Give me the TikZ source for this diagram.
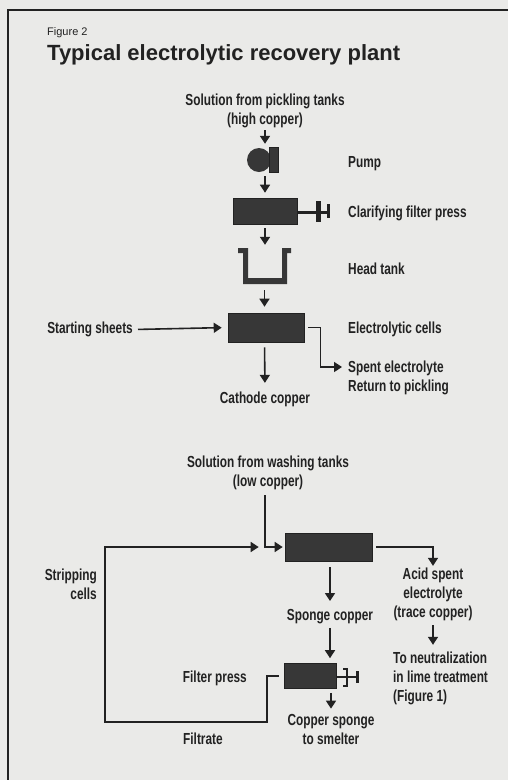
\documentclass[tikz,border=0pt]{standalone}
\usepackage{fontspec}
\setmainfont{Liberation Sans}
\newfontfamily\labelfont{Liberation Sans}[FakeStretch=0.74]
\usepackage{xcolor}
\usepackage{tikz}
\usetikzlibrary{positioning,arrows.meta,calc}
\definecolor{paper}{RGB}{234,234,232}
\definecolor{ink}{RGB}{34,34,34}
\definecolor{unitfill}{RGB}{55,55,55}
\tikzset{
unit/.style={
fill=unitfill,
draw=ink,
line width=0.6pt,
inner sep=0pt
},
lbl/.style={
text=ink,
align=center,
inner sep=1pt,
font=\labelfont\bfseries\fontsize{16}{19}\selectfont
},
arrow/.style={
-{Triangle[width=10pt,length=8pt]},
line width=1.6pt,
draw=ink
}
}

\begin{document}
\begin{tikzpicture}[x=1pt,y=-1pt]
\fill[paper] (0,0) rectangle (508,780);
\useasboundingbox (0,0) rectangle (508,780);
\draw[ink,line width=2pt] (508,10) -- (8,10) -- (8,780);

\node[anchor=base west,inner sep=0,text=ink,font=\fontsize{11}{13}\selectfont] (fig) at (47,35) {Figure 2};
\node[anchor=base west,inner sep=0,text=ink,font=\bfseries\fontsize{22}{26}\selectfont] (title) at (47,60) {Typical electrolytic recovery plant};

% upper plant: pickling solution
\node[lbl] (src1) at (265,111) {Solution from pickling tanks\\(high copper)};
\node[circle,fill=unitfill,minimum size=24pt,inner sep=0] (pump) at (259,160) {};
\node[unit,minimum width=9pt,minimum height=25pt] (pumpbar) at (273.5,159.5) {};
\node[unit,minimum width=64pt,minimum height=26pt] (press) at (265,211) {};
\node[minimum width=53pt,minimum height=36pt,inner sep=0] (tank) at (264.5,266) {};
\node[unit,minimum width=76pt,minimum height=29pt] (cells) at (266,327.5) {};

% press handle
\begin{scope}[shift={(press.east)}]
\draw[ink,line width=3pt] (0,1) -- (31,1);
\fill[ink] (19,-10) rectangle (24,11);
\fill[ink] (30,-7) rectangle (33,7);
\end{scope}

% head tank
\begin{scope}[shift={(tank)}]
\fill[unitfill] (-26.5,-18) -- (-16.5,-18) -- (-16.5,12) -- (17.5,12) -- (17.5,-18)
  -- (26.5,-18) -- (26.5,-13) -- (22.5,-13) -- (22.5,18) -- (-21.5,18)
  -- (-21.5,-13) -- (-26.5,-13) -- cycle;
\end{scope}

\node[lbl,anchor=west] (pumplbl) at (347,163.5) {Pump};
\node[lbl,anchor=west] (presslbl) at (347,213.5) {Clarifying filter press};
\node[lbl,anchor=west] (tanklbl) at (347,268.5) {Head tank};
\node[lbl,anchor=west] (cellslbl) at (347,329.5) {Electrolytic cells};
\node[lbl,anchor=east] (sheets) at (134,329.5) {Starting sheets};
\node[lbl,anchor=west,align=left] (spent) at (347,378) {Spent electrolyte\\Return to pickling};
\node[lbl] (cathode) at (265,399.5) {Cathode copper};
\coordinate (spentin) at (342,367);

\draw[arrow,shorten <=1pt,shorten >=4pt] (src1.south) -- (src1.south |- pump.north);
\draw[arrow,shorten <=4pt,shorten >=5pt] (press.north |- pump.south) -- (press.north);
\draw[arrow,shorten <=4pt,shorten >=3pt] (press.south) -- (press.south |- tank.north);
\draw[arrow,shorten <=6pt,shorten >=6pt] (tank.south) -- (tank.south |- cells.north);
\draw[arrow,shorten <=5pt,shorten >=8pt] (tank.south |- cells.south) -- (cathode.north);
\draw[arrow,shorten <=4pt,shorten >=6pt] (sheets.east) -- (cells.west);
\draw[arrow] ([xshift=4pt]cells.east) -- ++(12,0) |- (spentin);

% lower plant: washing solution
\node[lbl] (src2) at (268,473) {Solution from washing tanks\\(low copper)};
\node[unit,minimum width=87pt,minimum height=28pt] (cell2) at (328.5,547) {};
\node[lbl,anchor=east,align=right] (strip) at (98,584) {Stripping\\cells};
\node[lbl] (acid) at (433,594.5) {Acid spent\\electrolyte\\(trace copper)};
\node[lbl,anchor=west,align=left] (neut) at (392,678.5) {To neutralization\\in lime treatment\\(Figure 1)};
\node[lbl] (sponge) at (330,616.5) {Sponge copper};
\node[unit,minimum width=52pt,minimum height=25pt] (press2) at (310,676) {};
\node[lbl,anchor=east] (fplbl) at (248,678.5) {Filter press};
\node[lbl] (smelter) at (331,729) {Copper sponge\\to smelter};
\node[lbl,anchor=west] (filtrate) at (182,738.5) {Filtrate};
\coordinate (ret) at (105,722);

% second press handle
\begin{scope}[shift={(press2.east)}]
\draw[ink,line width=2pt] (0,1) -- (22,1);
\draw[ink,line width=1.8pt] (7,-7) -- (11,-7) -- (11,10) -- (7,10);
\draw[ink,line width=2.5pt] (21,-5) -- (21,7);
\end{scope}

\draw[arrow,shorten <=4pt,shorten >=2pt] ([xshift=-3pt]src2.south) |- (cell2.west);
\draw[arrow,shorten >=1pt] ([xshift=4pt]cell2.east) -| (acid.north);
\draw[arrow,shorten <=3pt,shorten >=6pt] (acid.south) -- (acid.south |- neut.north);
\draw[arrow,shorten <=6pt,shorten >=7pt] (sponge.north |- cell2.south) -- (sponge.north);
\draw[arrow,shorten <=3pt,shorten >=5pt] (sponge.south) -- (sponge.south |- press2.north);
\draw[arrow,shorten <=4pt,shorten >=4pt] (smelter.north |- press2.south) -- (smelter.north);
\draw[arrow] ([xshift=-5pt]press2.west) -- ++(-12,0) |- (ret) |- ([xshift=-26pt]cell2.west);
\end{tikzpicture}
\end{document}
